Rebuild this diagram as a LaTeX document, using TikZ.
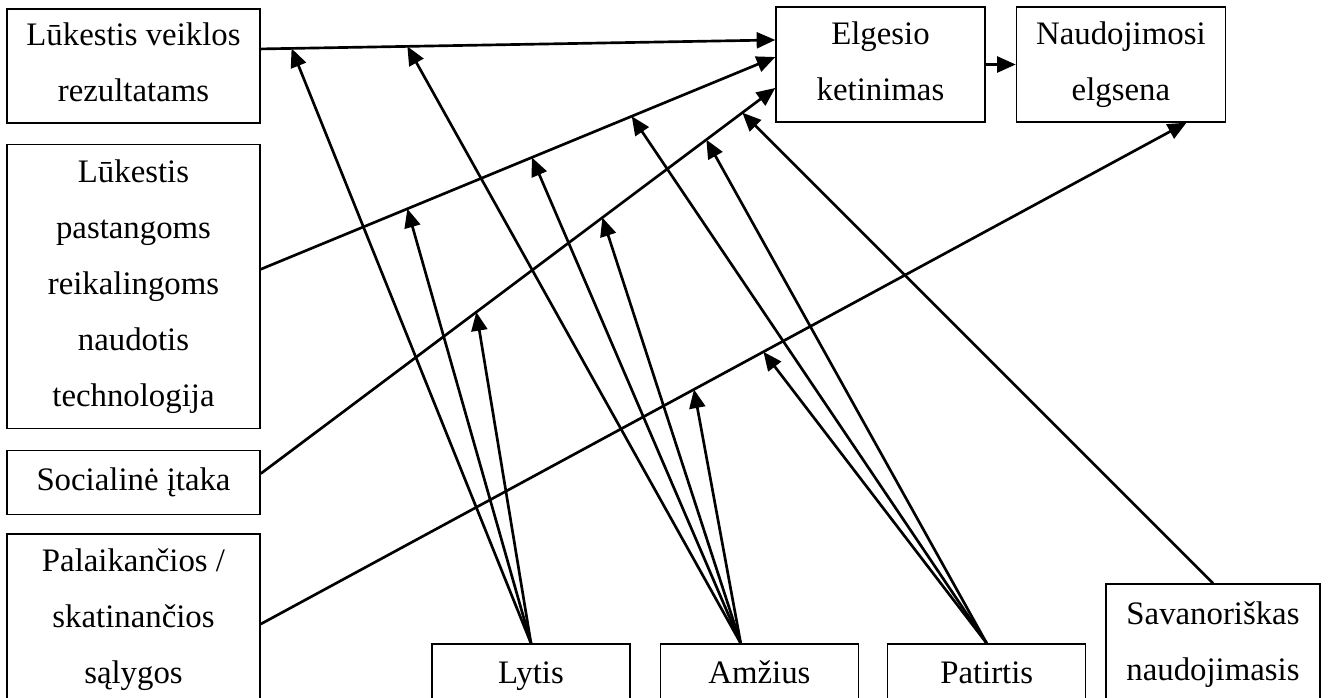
\documentclass[tikz,border=0pt]{standalone}
\usepackage{fontspec}
\setmainfont{Liberation Serif}
\usetikzlibrary{arrows.meta,positioning}
\tikzset{
  box/.style={rectangle,draw,line width=0.5pt,align=center,
              inner sep=0pt,font=\fontsize{12.3}{21}\selectfont,
              execute at end node=\vphantom{g}},
  arr/.style={-{Triangle[length=7pt,width=6pt]},line width=1pt},
}

\begin{document}
\begin{tikzpicture}[x=0.375pt,y=-0.375pt]
  \useasboundingbox (0,0) rectangle (1328,697);

  % Constructs (left column)
  \node[box,minimum width=94.9pt,minimum height=42.75pt] (pe) at (133.5,66)
       {Lūkestis veiklos\\rezultatams};
  \node[box,minimum width=94.9pt,minimum height=106.5pt,below=7.5pt of pe] (ee)
       {Lūkestis\\pastangoms\\reikalingoms\\naudotis\\technologija};
  \node[box,minimum width=94.9pt,minimum height=24pt,below=7.9pt of ee] (si)
       {Socialinė įtaka};
  \node[box,minimum width=94.9pt,minimum height=64.5pt,below=6.75pt of si] (fc)
       {Palaikančios /\\skatinančios\\sąlygos};

  % Intention and use
  \node[box,minimum width=78.4pt,minimum height=43.1pt] (bi) at (880.5,64.5)
       {Elgesio\\ketinimas};
  \node[box,minimum width=78.4pt,minimum height=43.1pt,right=11.25pt of bi] (ub)
       {Naudojimosi\\elgsena};

  % Moderators
  \node[box,minimum width=74.25pt,minimum height=24pt] (sex) at (531,676) {Lytis};
  \node[box,minimum width=74.25pt,minimum height=24pt,right=10.9pt of sex] (age) {Amžius};
  \node[box,minimum width=74.25pt,minimum height=24pt,right=10.5pt of age] (exp) {Patirtis};
  \node[box,minimum width=80.25pt,minimum height=45.75pt] (vol) at (1213,645)
       {Savanoriškas\\naudojimasis};
  \coordinate (agetop) at ([xshift=-7pt]age.north);

  % Main paths
  \draw[arr] ([yshift=6.4pt]pe.east) -- coordinate[pos=0.06] (pe1)
        coordinate[pos=0.285] (pe2) ([yshift=9.2pt]bi.west);
  \draw[arr] ([yshift=6.4pt]ee.east) -- coordinate[pos=0.285] (ee1)
        coordinate[pos=0.527] (ee2) coordinate[pos=0.721] (ee3) ([yshift=2.8pt]bi.west);
  \draw[arr] ([yshift=3.4pt]si.east) -- coordinate[pos=0.419] (si1)
        coordinate[pos=0.664] (si2) coordinate[pos=0.866] (si3)
        coordinate[pos=0.936] (si4) ([yshift=-8.8pt]bi.west);
  \draw[arr] ([yshift=-1.5pt]fc.east) -- coordinate[pos=0.468] (fc1)
        coordinate[pos=0.543] (fc2) ([xshift=24.6pt]ub.south);
  \draw[arr] (bi) -- (ub);

  % Moderating effects
  \foreach \s/\t in {sex.north/pe1,sex.north/ee1,sex.north/si1,
                     agetop/pe2,agetop/ee2,agetop/si2,agetop/fc1,
                     exp.north/ee3,exp.north/si3,exp.north/fc2,
                     vol.north/si4}
    \draw[arr] (\s) -- (\t);
\end{tikzpicture}
\end{document}
